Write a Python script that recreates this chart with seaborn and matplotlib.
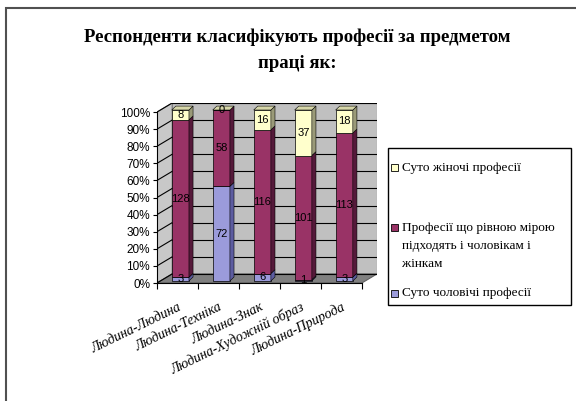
import matplotlib
matplotlib.use("Agg")
import matplotlib.pyplot as plt
from matplotlib.patches import Polygon, Rectangle
from matplotlib.ticker import PercentFormatter
import pandas as pd
import seaborn as sns

# ---- data -------------------------------------------------------------
categories = ["Людина-Людина", "Людина-Техніка", "Людина-Знак",
              "Людина-Художній образ", "Людина-Природа"]
male_only = [3, 72, 6, 1, 3]          # Суто чоловічі професії
both_sexes = [128, 58, 116, 101, 113]  # Професії, що рівною мірою підходять ...
female_only = [8, 0, 16, 37, 18]       # Суто жіночі професії

series_labels = ["Суто жіночі професії",
                 "Професії що рівною мірою\nпідходять і чоловікам і\nжінкам",
                 "Суто чоловічі професії"]
title_lines = ["Респонденти класифікують професії за предметом", "праці як:"]
y_ticks = [0.0, 0.1, 0.2, 0.3, 0.4, 0.5, 0.6, 0.7, 0.8, 0.9, 1.0]

# ---- styling ----------------------------------------------------------
plt.rcParams["font.family"] = ["Liberation Sans", "DejaVu Sans"]
serif = ["Liberation Serif", "DejaVu Serif"]
face = {"male": "#9B9BDB", "both": "#993366", "female": "#FFFFCC"}
side = {"male": "#5C5CA0", "both": "#55193A", "female": "#9A9A78"}
top_face = "#D6D6A8"

df = pd.DataFrame({"category": categories, "male": male_only,
                   "both": both_sexes, "female": female_only})
total = df[["male", "both", "female"]].sum(axis=1)
for col in ["male", "both", "female"]:
    df[col + "_pct"] = df[col] / total

# pseudo-3D geometry (data units)
front_left, front_right = -0.57, 4.43
wall_dx, wall_dy = 0.37, 0.053
bar_dx, bar_dy = 0.10, 0.023
lift = 0.012
bar_width = 0.42

fig = plt.figure(figsize=(5.76, 4.01), dpi=100)
ax = fig.add_axes([157 / 576, 1 - 283 / 401, 220 / 576, 180 / 401])
ax.set_facecolor("white")

# walls and floor
ax.add_patch(Rectangle((front_left + wall_dx, wall_dy), front_right - front_left, 1.0,
                       fc="#C0C0C0", ec="#808080", lw=0.8, zorder=0))
ax.add_patch(Polygon([(front_left, 0), (front_left + wall_dx, wall_dy),
                      (front_left + wall_dx, 1 + wall_dy), (front_left, 1)],
                     closed=True, fc="#C8C8C8", ec="#808080", lw=0.8, zorder=0))
ax.add_patch(Polygon([(front_left, 0), (front_right, 0),
                      (front_right + wall_dx, wall_dy), (front_left + wall_dx, wall_dy)],
                     closed=True, fc="#808080", ec="#606060", lw=0.8, zorder=0))
for v in y_ticks:
    ax.plot([front_left + wall_dx, front_right + wall_dx], [v + wall_dy] * 2,
            color="black", lw=0.8, zorder=0.5)
    ax.plot([front_left, front_left + wall_dx], [v, v + wall_dy],
            color="black", lw=0.8, zorder=0.5)

# stacked bars
bottom = pd.Series([lift] * len(df))
counts = {}
for key in ["male", "both", "female"]:
    sns.barplot(data=df, x="category", y=key + "_pct", bottom=bottom.values,
                color=face[key], saturation=1, width=bar_width,
                edgecolor="black", linewidth=0.5, ax=ax)
    bottom = bottom + df[key + "_pct"]
    counts[key] = df[key].tolist()

keys = ["male", "both", "female"]
for key, cont in zip(keys, ax.containers):
    for i, p in enumerate(cont.patches):
        x0, b, w, h = p.get_x(), p.get_y(), p.get_width(), p.get_height()
        x1, t = x0 + w, b + h
        if h > 0:
            ax.add_patch(Polygon([(x1, b), (x1 + bar_dx, b + bar_dy),
                                  (x1 + bar_dx, t + bar_dy), (x1, t)],
                                 closed=True, fc=side[key], ec="black", lw=0.4, zorder=1.5))
        if key == "female":
            ax.add_patch(Polygon([(x0, t), (x0 + bar_dx, t + bar_dy),
                                  (x1 + bar_dx, t + bar_dy), (x1, t)],
                                 closed=True, fc=top_face, ec="black", lw=0.4, zorder=1.5))
    ax.bar_label(cont, labels=[str(v) for v in counts[key]], label_type="center",
                 fontsize=8, color="black", zorder=3)

ax.set_xlim(front_left, front_right + wall_dx)
ax.set_ylim(0, 1 + wall_dy)
ax.set_xlabel("")
ax.set_ylabel("")

for s in ["top", "right"]:
    ax.spines[s].set_visible(False)
ax.spines["left"].set_bounds(0, 1)
ax.spines["bottom"].set_bounds(front_left, front_right)
for s in ["left", "bottom"]:
    ax.spines[s].set_color("black")
    ax.spines[s].set_linewidth(0.8)

ax.set_yticks(y_ticks)
ax.yaxis.set_major_formatter(PercentFormatter(1.0, decimals=0))
ax.tick_params(axis="y", left=True, length=3, width=0.8, direction="out",
               pad=2, labelsize=8.5, colors="black")

ax.set_xticks(range(len(categories)), categories)
ax.set_xticks([front_left + k for k in range(len(categories) + 1)], minor=True)
ax.tick_params(axis="x", which="major", bottom=True, length=0, pad=17)
ax.tick_params(axis="x", which="minor", bottom=True, length=4, width=0.8, direction="out")
for lbl in ax.get_xticklabels():
    lbl.set_rotation(26)
    lbl.set_rotation_mode("anchor")
    lbl.set_ha("right")
    lbl.set_va("center")
    lbl.set_fontstyle("italic")
    lbl.set_family(serif)
    lbl.set_fontsize(10)

# title
fig.text(297 / 576, 1 - 37 / 401, title_lines[0], ha="center", va="center",
         fontsize=13.5, fontweight="bold", family=serif)
fig.text(297 / 576, 1 - 63 / 401, title_lines[1], ha="center", va="center",
         fontsize=13.5, fontweight="bold", family=serif)

# legend box
W, H = 576, 401
fig.patches.append(Rectangle((388 / W, 1 - 305 / H), 183 / W, 157 / H,
                             transform=fig.transFigure, fill=True, fc="white",
                             ec="black", lw=1.0))
legend_keys = ["female", "both", "male"]
legend_rows = [168, 228, 293]
for key, label, yp in zip(legend_keys, series_labels, legend_rows):
    fig.patches.append(Rectangle((391 / W, 1 - (yp + 3.5) / H), 7 / W, 7 / H,
                                 transform=fig.transFigure, fc=face[key],
                                 ec="black", lw=0.6))
    fig.text(402 / W, 1 - (yp - 6) / H, label, ha="left", va="top",
             fontsize=9.5, linespacing=1.65, family=serif)

# outer chart frame
fig.patches.append(Rectangle((6 / W, -0.1), 1.2, 1 - 8 / H + 0.1,
                             transform=fig.transFigure, fill=False,
                             ec="#505050", lw=1.5))

fig.savefig("out.png", dpi=100)
